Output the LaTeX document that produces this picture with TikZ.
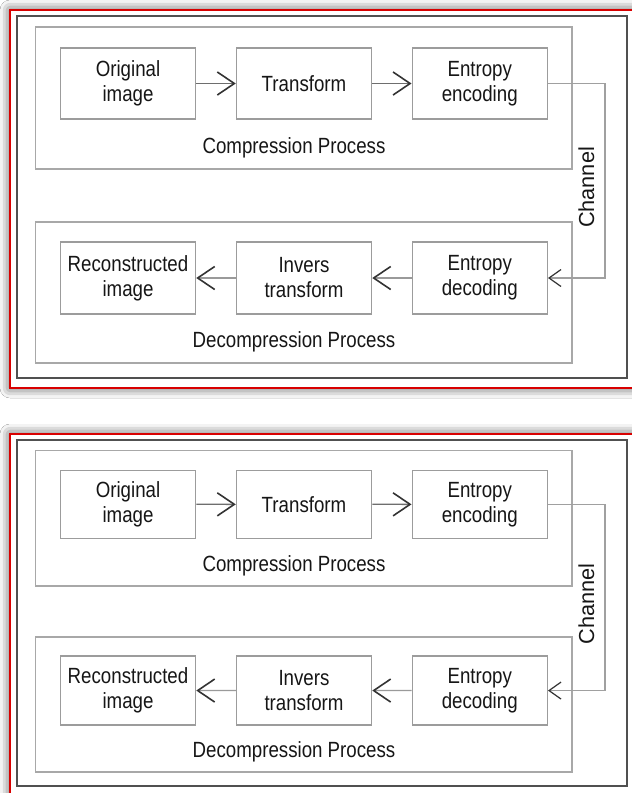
\documentclass[tikz,border=0pt]{standalone}
\usepackage{fontspec}
\setmainfont{Liberation Sans}[FakeStretch=0.85]
\newfontfamily\chanfont{Liberation Sans}
\usetikzlibrary{arrows.meta,shadows.blur}
\definecolor{boxgray}{HTML}{9C9C9C}
\definecolor{groupgray}{HTML}{A8A8A8}
\definecolor{framegray}{HTML}{505050}
\definecolor{redc}{HTML}{D80000}
\definecolor{textc}{HTML}{161616}
\definecolor{shaftA}{HTML}{6E6E6E}
\definecolor{shaftB}{HTML}{9A9A9A}
\definecolor{headc}{HTML}{333333}
\definecolor{chanc}{HTML}{A0A0A0}
\newcommand\boxfont{\fontsize{22pt}{25pt}\selectfont}
\newcommand\drawpanel[3]{%
\begin{scope}[shift={(0,#2)},yscale=#3]
\draw[darkframe] (17,16) rectangle (627,378);
\draw[groupbox] (35.5,27) rectangle (572,169);
\draw[groupbox] (35.5,222) rectangle (572,363);
\node[procbox, minimum height={71pt*#3}] (#1orig) at (128,83.5) {Original\\image};
\node[procbox, minimum height={71pt*#3}] (#1tr) at (304,83.5) {Transform};
\node[procbox, minimum height={71pt*#3}] (#1enc) at (479.75,83.5) {Entropy\\encoding};
\node[procbox, minimum height={72pt*#3}] (#1rec) at (128,278) {Reconstructed\\image};
\node[procbox, minimum height={72pt*#3}] (#1inv) at (304,278) {Invers\\transform};
\node[procbox, minimum height={72pt*#3}] (#1dec) at (479.75,278) {Entropy\\decoding};
\node[grouplabel] (#1cl) at (294,153.3) {Compression Process};
\node[grouplabel] (#1dl) at (294,347.5) {Decompression Process};
\coordinate (#1ch) at (605,180);
\node[chanlabel] (#1chl) at (594,187.5) {Channel};
\draw[flowA] (#1orig) -- (#1tr);
\draw[flowA] (#1tr) -- (#1enc);
\draw[flowB] (#1dec) -- (#1inv);
\draw[flowB] (#1inv) -- (#1rec);
\draw[chanline] (#1enc.east) -- (#1enc.east -| #1ch) -- (#1dec.east -| #1ch) -- (#1dec.east);
\end{scope}}
\begin{document}
\begin{tikzpicture}[x=1pt,y=-1pt,
  redframe/.style={draw=redc, line width=2pt, fill=white,
    blur shadow={shadow xshift=0pt, shadow yshift=0pt, shadow blur radius=10pt, shadow opacity=75}},
  darkframe/.style={draw=framegray, line width=2.2pt},
  groupbox/.style={draw=groupgray, line width=1.5pt},
  procbox/.style={draw=boxgray, line width=1.5pt, minimum width=135pt, inner sep=0pt,
    align=center, font=\boxfont, text=textc},
  grouplabel/.style={anchor=base, inner sep=0pt, font=\boxfont, text=textc},
  chanlabel/.style={rotate=90, anchor=base, inner sep=0pt, font=\chanfont\fontsize{21.7pt}{25pt}\selectfont, text=textc},
  flowA/.style={draw=shaftA, line width=1.3pt, -{Straight Barb[length=17pt,width=23pt,line width=1.6pt,color=headc]}},
  flowB/.style={draw=shaftB, line width=1.3pt, -{Straight Barb[length=17pt,width=23pt,line width=1.6pt,color=headc]}},
  chanline/.style={draw=chanc, line width=1.2pt, -{Straight Barb[length=12pt,width=17pt,line width=1.2pt,color=headc]}}
]
\useasboundingbox (0,0) rectangle (632,793);
\clip (0,0) rectangle (632,793);
\fill[white] (0,0) rectangle (632,793);
\draw[redframe] (10,10) rectangle (660,388);
\draw[redframe] (10,434) rectangle (660,830);
\drawpanel{a}{0}{1}
\drawpanel{b}{424.4}{0.9575}
\end{tikzpicture}
\end{document}
